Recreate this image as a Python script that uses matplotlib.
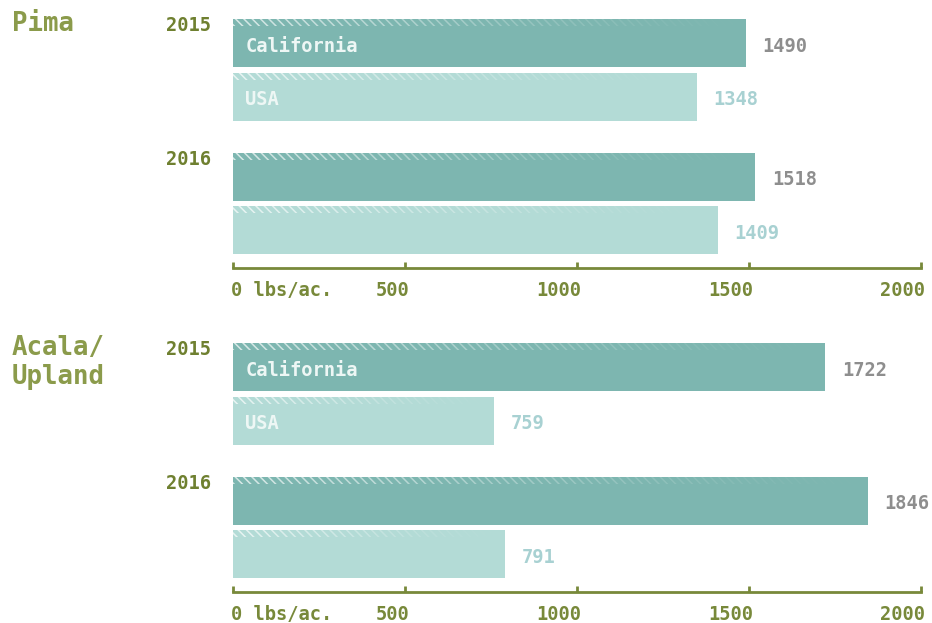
import numpy as np
import matplotlib.pyplot as plt
from matplotlib.patches import Rectangle
import matplotlib.transforms as mtransforms

# data
groups = ["Pima", "Acala/\nUpland"]
years = ["2015", "2016"]
california = [[1490, 1518], [1722, 1846]]
usa = [[1348, 1409], [759, 791]]
xticks = [0, 500, 1000, 1500, 2000]
xticklabels = ["0 lbs/ac.", "500", "1000", "1500", "2000"]

# colours
ca_color = "#7db6b0"
usa_color = "#b3dbd6"
ca_text = "#8e8e8e"
usa_text = "#a8d1d2"
axis_olive = "#78893a"
year_olive = "#6f8030"
title_olive = "#8b9b4b"
inner_text = "#eef7f5"

plt.rcParams['font.family'] = ['DejaVu Sans Mono']
plt.rcParams['font.weight'] = 'bold'
plt.rcParams['hatch.linewidth'] = 1.1

fig = plt.figure(figsize=(9.32, 6.23), dpi=100)

# bar positions (in bar-pitch units)
ca_pos = [0, 2.5]
usa_pos = [1, 3.5]
bar_h = 0.9
strip_h = 0.13


def hatch_strip(ax, y_top, width, nseg=40):
    # fading white diagonal stripes along top of bar
    edges = np.linspace(0, width, nseg + 1)
    for i in range(nseg):
        a = 0.7 * (1 - i / nseg) ** 1.5
        r = Rectangle((edges[i], y_top), edges[i + 1] - edges[i], strip_h,
                      facecolor='none', edgecolor=(1, 1, 1, a),
                      hatch='\\\\\\\\', linewidth=0, zorder=3)
        ax.add_patch(r)


bottoms = [(623 - 268) / 623, (623 - 592) / 623]
for g in range(2):
    ax = fig.add_axes([233 / 932, bottoms[g], 688 / 932, 253 / 623])
    ax.set_xlim(0, 2000)
    ax.set_ylim(4.21, -0.53)

    ca_bars = ax.barh(ca_pos, california[g], height=bar_h, color=ca_color, zorder=2)
    usa_bars = ax.barh(usa_pos, usa[g], height=bar_h, color=usa_color, zorder=2)

    for bars, vals in ((ca_bars, california[g]), (usa_bars, usa[g])):
        for b, v in zip(bars, vals):
            hatch_strip(ax, b.get_y(), v)

    for p, v in zip(ca_pos, california[g]):
        ax.annotate(str(v), (v, p + 0.06), xytext=(12, 0), textcoords='offset points',
                    ha='left', va='center', fontsize=13.5, color=ca_text)
    for p, v in zip(usa_pos, usa[g]):
        ax.annotate(str(v), (v, p + 0.06), xytext=(12, 0), textcoords='offset points',
                    ha='left', va='center', fontsize=13.5, color=usa_text)

    # series names inside the first pair of bars
    ax.annotate("California", (0, ca_pos[0] + 0.06), xytext=(9, 0), textcoords='offset points',
                ha='left', va='center', fontsize=13.5, color=inner_text, zorder=4)
    ax.annotate("USA", (0, usa_pos[0] + 0.06), xytext=(9, 0), textcoords='offset points',
                ha='left', va='center', fontsize=13.5, color=inner_text, zorder=4)

    # year labels
    for p, yr in zip(ca_pos, years):
        ax.annotate(yr, (0, p - bar_h / 2 + 0.12), xytext=(-16, 0), textcoords='offset points',
                    ha='right', va='center', fontsize=13.5, color=year_olive)

    # group title
    ax.text(12 / 932, (623 - (11 if g == 0 else 335)) / 623, groups[g],
            transform=fig.transFigure, ha='left', va='top', fontsize=18.5,
            color=title_olive, linespacing=1.15)

    for s in ('top', 'right', 'left'):
        ax.spines[s].set_visible(False)
    ax.spines['bottom'].set_color(axis_olive)
    ax.spines['bottom'].set_linewidth(2)
    ax.set_yticks([])
    ax.set_xticks(xticks)
    ax.set_xticklabels(xticklabels, fontsize=13.5, color=axis_olive)
    ax.tick_params(axis='x', direction='in', length=4, width=2, color=axis_olive, pad=9)
    for i, lab in enumerate(ax.get_xticklabels()):
        if i == 0:
            lab.set_ha('left')
            lab.set_transform(lab.get_transform() +
                              mtransforms.ScaledTranslation(-2 / 100, 0, fig.dpi_scale_trans))
        else:
            lab.set_ha('right')
            lab.set_transform(lab.get_transform() +
                              mtransforms.ScaledTranslation(4 / 100, 0, fig.dpi_scale_trans))

fig.savefig("out.png", dpi=100)
